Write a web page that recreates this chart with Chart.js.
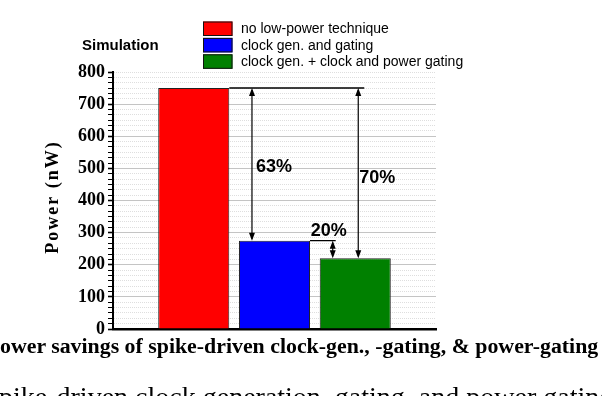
<!DOCTYPE html>
<html>
<head>
<meta charset="utf-8">
<script src="https://cdn.jsdelivr.net/npm/chart.js@4.4.0/dist/chart.umd.min.js"></script>
<style>
  html, body { margin: 0; padding: 0; background: #fff; overflow: hidden; }
  #wrap { position: relative; width: 602px; height: 396px; overflow: hidden; }
  canvas { position: absolute; left: 0; top: 0; }
  .txt { position: absolute; white-space: nowrap; color: #000; line-height: 1; }
  #sim { left: 82px; top: 36px; font: bold 15px 'Liberation Sans', Arial, sans-serif; }
  #cap1 { left: 0px; top: 334px; font: bold 21.85px 'Liberation Serif', 'Times New Roman', serif; }
  #cap2 { left: -1px; top: 381px; font: 28px 'Liberation Serif', 'Times New Roman', serif; }
</style>
</head>
<body>
<div id="wrap">
  <canvas id="chart" width="602" height="396"></canvas>
  <div class="txt" id="sim">Simulation</div>
  <div class="txt" id="cap1">ower savings of spike-driven clock-gen., -gating, &amp; power-gating</div>
  <div class="txt" id="cap2">pike-driven clock generation, gating, and power gating</div>
</div>
<script>
'use strict';

// ─── Data ─────────────────────────────────────────────────────────────────────

const categories = ['no low-power technique', 'clock gen. and gating', 'clock gen. + clock and power gating'];
const power = [750, 275, 220];
const barColors = ['#ff0000', '#0000ff', '#008000'];
const savings = ['63%', '20%', '70%'];
const yTicks = [0, 100, 200, 300, 400, 500, 600, 700, 800];

const Y_MIN = 0;
const Y_MAX = 800;
const MINOR_STEP = 100 / 6;

const isMajor = (v) => yTicks.some((t) => Math.abs(t - v) < 1e-3);

// ─── Plugins ──────────────────────────────────────────────────────────────────

function arrowHead(ctx, x, y, dir) {
  // dir: -1 points up, 1 points down
  ctx.beginPath();
  ctx.moveTo(x, y);
  ctx.lineTo(x - 3, y - dir * 8);
  ctx.lineTo(x + 3, y - dir * 8);
  ctx.closePath();
  ctx.fill();
}

function vArrow(ctx, x, y1, y2) {
  ctx.beginPath();
  ctx.moveTo(x, y1 + 2);
  ctx.lineTo(x, y2 - 2);
  ctx.stroke();
  arrowHead(ctx, x, y1, -1);
  arrowHead(ctx, x, y2, 1);
}

const annotations = {
  id: 'annotations',
  afterDatasetsDraw(chart) {
    const { ctx } = chart;
    const y = chart.scales.y;
    const bars = chart.getDatasetMeta(0).data;
    const red = bars[1], blue = bars[2], green = bars[3];
    const half = (b) => b.width / 2;

    const yRed = y.getPixelForValue(power[0]);
    const yBlue = y.getPixelForValue(power[1]);
    const yGreen = y.getPixelForValue(power[2]);

    const xA1 = blue.x - half(blue) + 13;
    const xA3 = green.x - half(green) + 13;
    const xA2 = green.x + 3;

    ctx.save();
    ctx.strokeStyle = '#000';
    ctx.fillStyle = '#000';
    ctx.lineWidth = 1.4;

    // reference lines
    ctx.beginPath();
    ctx.moveTo(red.x + half(red), yRed);
    ctx.lineTo(xA2 + 6, yRed);
    ctx.moveTo(blue.x + half(blue), yBlue);
    ctx.lineTo(xA3 + 3, yBlue);
    ctx.stroke();

    ctx.lineWidth = 1.2;
    vArrow(ctx, xA1, yRed, yBlue);
    vArrow(ctx, xA2, yRed, yGreen);
    vArrow(ctx, xA3, yBlue, yGreen);

    ctx.font = 'bold 18px "Liberation Sans", Arial, sans-serif';
    ctx.textBaseline = 'middle';
    ctx.textAlign = 'left';
    ctx.fillText(savings[0], xA1 + 4, 167);
    ctx.fillText(savings[2], xA2 + 1, 178);
    ctx.fillText(savings[1], xA3 - 22, 231);
    ctx.restore();
  },
};

const sideLegend = {
  id: 'sideLegend',
  afterDraw(chart) {
    const { ctx } = chart;
    ctx.save();
    ctx.font = '14px "Liberation Sans", Arial, sans-serif';
    ctx.textBaseline = 'middle';
    categories.forEach((c, i) => {
      const top = 21.5 + i * 16.4;
      ctx.fillStyle = barColors[i];
      ctx.fillRect(203, top, 29.5, 14.5);
      ctx.strokeStyle = '#111';
      ctx.lineWidth = 1;
      ctx.strokeRect(203.5, top + 0.5, 28.5, 13.5);
      ctx.fillStyle = '#000';
      ctx.fillText(c, 241, top + 7.8);
    });
    ctx.restore();
  },
};

const yTitle = {
  id: 'yTitle',
  afterDraw(chart) {
    const { ctx } = chart;
    ctx.save();
    ctx.translate(53, 197);
    ctx.rotate(-Math.PI / 2);
    ctx.font = 'bold 18px "Liberation Serif", "Times New Roman", serif';
    ctx.letterSpacing = '2px';
    ctx.textAlign = 'center';
    ctx.textBaseline = 'middle';
    ctx.fillStyle = '#000';
    ctx.fillText('Power (nW)', 0, 0);
    ctx.restore();
  },
};

// ─── Chart ────────────────────────────────────────────────────────────────────

Chart.defaults.font.family = '"Liberation Sans", Arial, sans-serif';

new Chart(document.getElementById('chart').getContext('2d'), {
  type: 'bar',
  data: {
    labels: ['', ...categories, ''],
    datasets: [
      {
        data: [null, ...power, null],
        backgroundColor: ['transparent', ...barColors, 'transparent'],
        borderColor: '#222',
        borderWidth: 1,
        borderSkipped: 'bottom',
        barPercentage: 0.88,
        categoryPercentage: 1,
      },
    ],
  },
  options: {
    responsive: false,
    animation: false,
    events: [],
    layout: { padding: { left: 0, top: 72, right: 166, bottom: 67 } },
    plugins: { legend: { display: false }, tooltip: { enabled: false } },
    scales: {
      x: {
        offset: false,
        ticks: { display: false },
        grid: { display: false, drawTicks: false },
        border: { display: true, color: '#000', width: 2.5 },
        afterFit: (s) => { s.height = 0; },
      },
      y: {
        min: Y_MIN,
        max: Y_MAX,
        afterFit: (s) => { s.width = 113; },
        ticks: {
          stepSize: MINOR_STEP,
          autoSkip: false,
          padding: 3,
          color: '#000',
          font: { family: '"Liberation Serif", "Times New Roman", serif', size: 18, weight: 'bold' },
          callback: (v) => {
            const hit = yTicks.find((t) => Math.abs(t - v) < 1e-3);
            return hit === undefined ? '' : String(hit);
          },
        },
        grid: {
          drawTicks: true,
          tickLength: 5,
          tickColor: '#000',
          tickWidth: (c) => (c.tick && isMajor(c.tick.value) ? 1.6 : 1),
          lineWidth: 1,
          color: (c) => {
            if (!c.tick) return '#ccc';
            const v = c.tick.value;
            if (isMajor(v) && v > Y_MIN + 1 && v < Y_MAX - 1) return '#c4c4c4';
            return '#dedede';
          },
        },
        border: {
          display: true,
          color: '#000',
          width: 2,
          dash: (c) => (c.tick && !(isMajor(c.tick.value) && c.tick.value < Y_MAX - 1) ? [1, 1] : []),
        },
      },
    },
  },
  plugins: [annotations, sideLegend, yTitle],
});
</script>
</body>
</html>
